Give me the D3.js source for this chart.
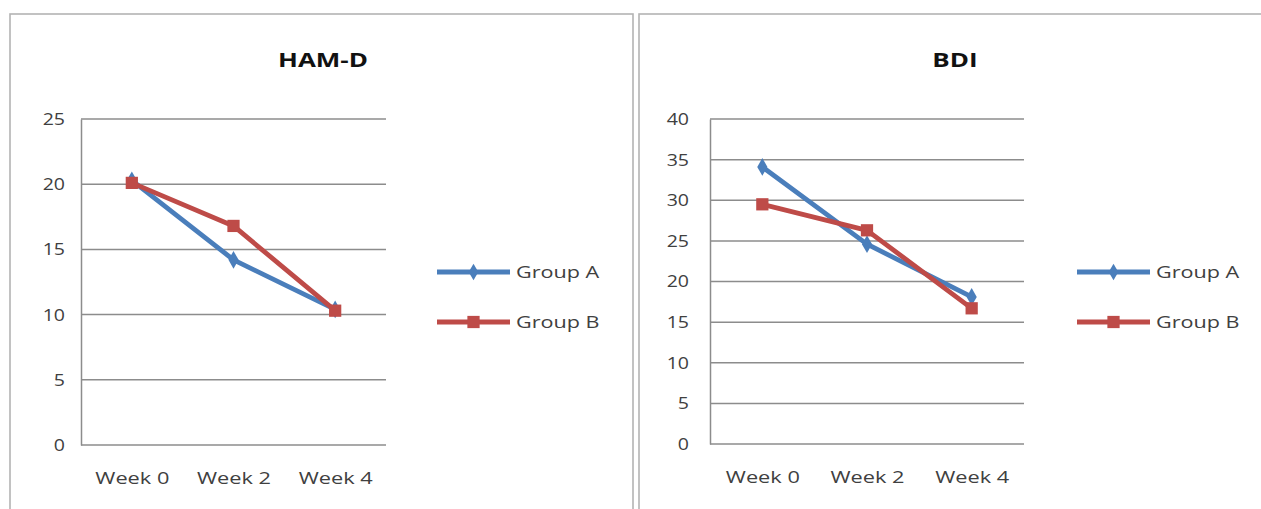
<!DOCTYPE html>
<html>
<head>
<meta charset="utf-8">
<script src="https://cdn.jsdelivr.net/npm/d3@7"></script>
<style>
  html, body { margin: 0; padding: 0; background: #fff; }
  svg { display: block; }
  text { font-family: "Open Sans", "Liberation Sans", sans-serif; }
</style>
</head>
<body>
<svg id="chart" width="1261" height="509"></svg>
<script>
// Study time points
const weeks = ["Week 0", "Week 2", "Week 4"];
const groups = ["Group A", "Group B"];

// HAM-D mean scores per group
const hamdGroupA = [20.3, 14.2, 10.4];
const hamdGroupB = [20.1, 16.8, 10.3];

// BDI mean scores per group
const bdiGroupA = [34.1, 24.6, 18.1];
const bdiGroupB = [29.5, 26.3, 16.7];

// Axis tick values
const hamdTicks = [0, 5, 10, 15, 20, 25];
const bdiTicks = [0, 5, 10, 15, 20, 25, 30, 35, 40];

const colors = { "Group A": "#4a7ebb", "Group B": "#be4b48" };

const svg = d3.select("#chart");

// Widen text horizontally around its anchor point
function stretch(sel, sx) {
  sel.each(function () {
    const t = d3.select(this);
    const ax = +t.attr("x") || 0;
    t.attr("transform", `translate(${ax},0) scale(${sx},1) translate(${-ax},0)`);
  });
}

// Panel frames
svg.append("rect").attr("x", 10).attr("y", 14).attr("width", 623).attr("height", 520)
  .attr("fill", "none").attr("stroke", "#b3b3b3").attr("stroke-width", 1.6);
svg.append("rect").attr("x", 639).attr("y", 14).attr("width", 640).attr("height", 520)
  .attr("fill", "none").attr("stroke", "#b3b3b3").attr("stroke-width", 1.6);

function drawPanel(cfg) {
  const g = svg.append("g");
  const x = d3.scalePoint().domain(weeks).range([cfg.left, cfg.right]).padding(0.5);
  const y = d3.scaleLinear().domain([0, cfg.max]).range([cfg.bottom, cfg.top]);

  // Title
  const title = g.append("text").attr("x", cfg.titleX).attr("y", 67)
    .attr("text-anchor", "middle").attr("font-size", 20).attr("font-weight", "bold")
    .attr("fill", "#111").text(cfg.title);
  stretch(title, 1.3);

  // Horizontal gridlines
  g.selectAll(".grid").data(cfg.ticks).join("line")
    .attr("x1", cfg.left).attr("x2", cfg.right)
    .attr("y1", d => y(d)).attr("y2", d => y(d))
    .attr("stroke", "#8c8c8c").attr("stroke-width", 1.5);

  // Y axis
  const yAxis = g.append("g").attr("transform", `translate(${cfg.left},0)`)
    .call(d3.axisLeft(y).tickValues(cfg.ticks).tickSize(0).tickPadding(cfg.tickPad));
  yAxis.select(".domain").attr("stroke", "#8c8c8c").attr("stroke-width", 1.5);
  yAxis.selectAll("text").attr("font-size", 17).attr("fill", "#404040")
    .attr("font-family", "\"Open Sans\", sans-serif");
  stretch(yAxis.selectAll("text"), 1.15);

  // X axis
  const xAxis = g.append("g").attr("transform", `translate(0,${cfg.bottom})`)
    .call(d3.axisBottom(x).tickSize(0).tickPadding(27));
  xAxis.select(".domain").remove();
  xAxis.selectAll("text").attr("font-size", 17).attr("fill", "#404040")
    .attr("font-family", "\"Open Sans\", sans-serif");
  stretch(xAxis.selectAll("text"), 1.28);

  const line = d3.line().x((d, i) => x(weeks[i])).y(d => y(d));

  cfg.series.forEach(s => {
    g.append("path").datum(s.values)
      .attr("fill", "none").attr("stroke", colors[s.name]).attr("stroke-width", 4.8)
      .attr("stroke-linejoin", "round").attr("d", line);
  });
  cfg.series.forEach(s => {
    const sym = s.name === "Group A" ? d3.symbolDiamond : d3.symbolSquare;
    const size = s.name === "Group A" ? 90 : 150;
    g.selectAll(null).data(s.values).join("path")
      .attr("transform", (d, i) => `translate(${x(weeks[i])},${y(d)})`)
      .attr("d", d3.symbol().type(sym).size(size))
      .attr("fill", colors[s.name]);
  });

  // Legend
  const leg = g.append("g").attr("transform", `translate(${cfg.legendX},0)`);
  groups.forEach((name, i) => {
    const ly = 272 + i * 50;
    leg.append("line").attr("x1", 0).attr("x2", 73).attr("y1", ly).attr("y2", ly)
      .attr("stroke", colors[name]).attr("stroke-width", 4.8);
    const sym = name === "Group A" ? d3.symbolDiamond : d3.symbolSquare;
    leg.append("path").attr("transform", `translate(36.5,${ly})`)
      .attr("d", d3.symbol().type(sym).size(name === "Group A" ? 80 : 150))
      .attr("fill", colors[name]);
    const lt = leg.append("text").attr("x", 79).attr("y", ly).attr("dy", "0.35em")
      .attr("font-size", 17).attr("fill", "#404040").text(name);
    stretch(lt, 1.27);
  });
}

drawPanel({
  title: "HAM-D", titleX: 323, left: 81, right: 386, top: 119, bottom: 445,
  max: 25, ticks: hamdTicks, tickPad: 16, legendX: 437,
  series: [{ name: "Group A", values: hamdGroupA }, { name: "Group B", values: hamdGroupB }]
});

drawPanel({
  title: "BDI", titleX: 955, left: 710, right: 1024, top: 119, bottom: 444,
  max: 40, ticks: bdiTicks, tickPad: 21, legendX: 1077,
  series: [{ name: "Group A", values: bdiGroupA }, { name: "Group B", values: bdiGroupB }]
});
</script>
</body>
</html>
